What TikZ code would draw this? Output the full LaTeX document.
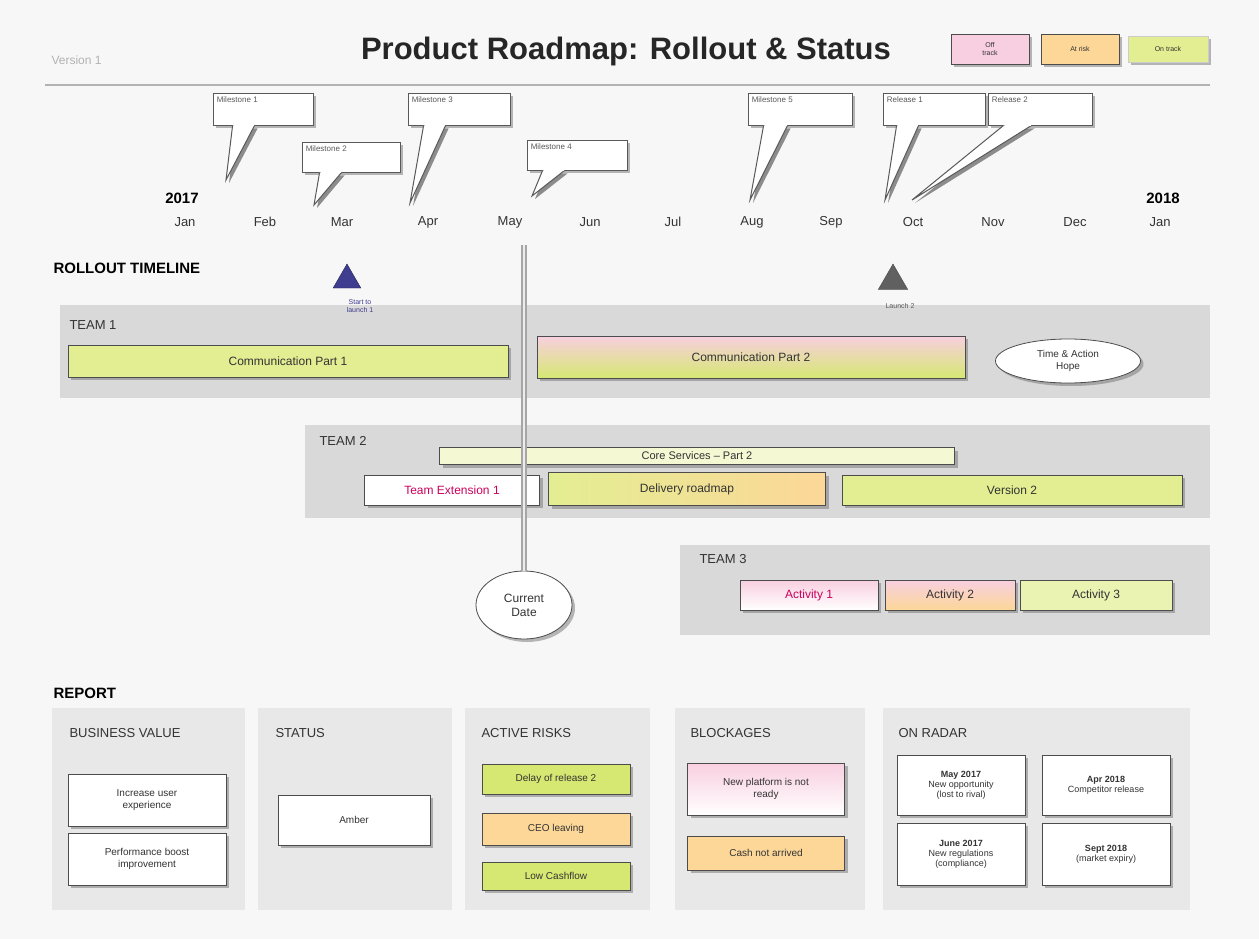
\documentclass[tikz,border=0pt]{standalone}
\usepackage{fontspec}
\setmainfont{Liberation Sans}
\usetikzlibrary{shadows,shapes.geometric,calc}
\definecolor{bgc}{HTML}{F7F7F7}
\definecolor{bandc}{HTML}{D9D9D9}
\definecolor{panelc}{HTML}{E8E8E8}
\definecolor{limec}{HTML}{E3EE92}
\definecolor{limed}{HTML}{D6E872}
\definecolor{orangec}{HTML}{FCD798}
\definecolor{pinkc}{HTML}{F8CFE0}
\definecolor{navyc}{HTML}{3F3D8F}
\definecolor{txtc}{HTML}{333333}
\newcommand{\fsz}[2]{\fontsize{#1}{#2}\selectfont}
\tikzset{
  shad/.style={drop shadow={shadow xshift=3pt,shadow yshift=-3pt,fill=black!55}},
  callout/.style={draw=gray!70!black,fill=white,line width=0.8pt,shad},
  calltext/.style={anchor=north west,inner sep=4pt,font=\fsz{8}{9},text=gray!70!black},
  ptr/.style={draw=gray!70!black,line width=1pt,fill=white},
  month/.style={font=\fsz{13}{15},text=txtc},
  year/.style={font=\bfseries\fsz{15}{17},text=black},
  band/.style={fill=bandc,draw=none,inner sep=0pt},
  teamlbl/.style={anchor=west,font=\fsz{13}{15},text=txtc},
  bar/.style={draw=gray!60!black,line width=0.8pt,shad,inner sep=1pt,font=\fsz{12}{14},text=txtc,align=center},
  panel/.style={fill=panelc,draw=none,inner sep=0pt},
  phead/.style={anchor=west,font=\fsz{13}{15},text=txtc},
  card/.style={draw=gray!60!black,line width=0.8pt,fill=white,shad,font=\fsz{10}{12},text=txtc,align=center,inner sep=1pt},
  section/.style={anchor=west,font=\bfseries\fsz{15}{17},text=black},
  legend/.style={draw=gray!60!black,line width=0.8pt,shad,font=\fsz{7}{8},text=txtc,align=center,inner sep=1pt},
  dateline/.style={draw=gray!70,line width=1.8pt,double=white!85!gray,double distance=1.6pt},
}
\begin{document}
\begin{tikzpicture}[x=1pt,y=-1pt]
\fill[bgc] (0,0) rectangle (1259,939);
\useasboundingbox (0,0) rectangle (1259,939);

% header
\node[anchor=west,font=\fsz{12}{14},text=gray!60] (ver) at (48,60) {Version 1};
\node[font=\bfseries\fsz{31}{34},text=black!85] (title) at (626,51) {Product Roadmap: Rollout \& Status};
\node[legend,fill=pinkc,minimum width=78,minimum height=30] (lg1) at (990,49) {Off\\track};
\node[legend,fill=orangec,minimum width=78,minimum height=30] (lg2) at (1080,49) {At risk};
\node[legend,fill=limec,draw=gray!40,minimum width=80,minimum height=26] (lg3) at (1168,49) {On track};
\coordinate (hl1) at (45,85);
\coordinate (hl2) at (1210,85);
\draw[gray!60,line width=1.5pt] (hl1) -- (hl2);

% milestone callouts
\node[callout,minimum width=100,minimum height=32,label={[calltext]north west:Milestone 1}] (m1) at (263,109) {};
\node[callout,minimum width=98,minimum height=30,label={[calltext]north west:Milestone 2}] (m2) at (351,157) {};
\node[callout,minimum width=102,minimum height=32,label={[calltext]north west:Milestone 3}] (m3) at (459,109) {};
\node[callout,minimum width=100,minimum height=30,label={[calltext]north west:Milestone 4}] (m4) at (577,155) {};
\node[callout,minimum width=104,minimum height=32,label={[calltext]north west:Milestone 5}] (m5) at (800,109) {};
\node[callout,minimum width=102,minimum height=32,label={[calltext]north west:Release 1}] (m6) at (934,109) {};
\node[callout,minimum width=104,minimum height=32,label={[calltext]north west:Release 2}] (m7) at (1040,109) {};
\coordinate (t1) at (226,180);
\coordinate (t2) at (314,205);
\coordinate (t3) at (410,203);
\coordinate (t4) at (532,196);
\coordinate (t5) at (750,200);
\coordinate (t6) at (885,200);
\coordinate (t7) at (912,200);
\foreach \m/\t/\a/\b in {m1/t1/20/42, m2/t2/18/40, m3/t3/16/38, m4/t4/16/38, m5/t5/16/40, m6/t6/14/36, m7/t7/16/44}{
  \fill[black!45] ($(\m.south west)+(\a+3,3)$) -- ($(\t)+(3,3)$) -- ($(\m.south west)+(\b+3,3)$) -- cycle;
  \fill[white] ($(\m.south west)+(\a,0)$) -- (\t) -- ($(\m.south west)+(\b,0)$) -- cycle;
  \draw[ptr,fill=none] ($(\m.south west)+(\a,0)$) -- (\t) -- ($(\m.south west)+(\b,0)$);
  \draw[white,line width=1.2pt] ($(\m.south west)+(\a+1,0)$) -- ($(\m.south west)+(\b-1,0)$);
}

% months
\node[year] (y17) at (182,198) {2017};
\node[year] (y18) at (1163,198) {2018};
\foreach \n/\x/\l in {mo1/185/Jan, mo2/265/Feb, mo3/342/Mar, mo4/428/Apr, mo5/510/May, mo6/590/Jun, mo7/673/Jul, mo8/752/Aug, mo9/831/Sep, mo10/913/Oct, mo11/993/Nov, mo12/1075/Dec, mo13/1160/Jan}{
  \node[month] (\n) at (\x,222) {\l};
}

% team bands
\node[band,minimum width=1150,minimum height=93,anchor=north west] (team1) at (60,305) {};
\node[teamlbl] (team1l) at (66,325) {TEAM 1};
\node[band,minimum width=905,minimum height=93,anchor=north west] (team2) at (305,425) {};
\node[teamlbl] (team2l) at (316,441) {TEAM 2};
\node[band,minimum width=530,minimum height=90,anchor=north west] (team3) at (680,545) {};
\node[teamlbl] (team3l) at (696,559) {TEAM 3};

% rollout timeline
\node[section] (rt) at (50,268) {ROLLOUT TIMELINE};
\node[regular polygon,regular polygon sides=3,fill=navyc,draw=navyc!60!black,minimum size=32,inner sep=0pt] (tri1) at (347,280) {};
\node[font=\fsz{7}{8},text=navyc,align=center] (tri1l) at (360,306) {Start to\\launch 1};
\node[regular polygon,regular polygon sides=3,fill=gray!75!black,draw=black!70,minimum size=34,inner sep=0pt] (tri2) at (893,281) {};
\node[font=\fsz{7}{8},text=gray!70!black] (tri2l) at (900,306) {Launch 2};

% team 1 bars
\node[bar,fill=limec,minimum width=440,minimum height=32] (b1) at (288,361) {Communication Part 1};
\node[bar,top color=pinkc,middle color=orangec,bottom color=limed,minimum width=428,minimum height=42] (b2) at (751,357) {Communication Part 2};
\node[ellipse,draw=gray!60!black,line width=0.8pt,fill=white,shad,minimum width=145,minimum height=44,font=\fsz{10}{12},text=txtc,align=center] (e1) at (1068,361) {Time \& Action\\Hope};

% team 2 bars
\node[bar,fill=white!60!limec,minimum width=515,minimum height=17,font=\fsz{11}{12}] (b3) at (697,456) {Core Services -- Part 2};
\node[bar,fill=white,text=red!55!magenta!80!black,minimum width=175,minimum height=30] (b4) at (452,490) {Team Extension 1};
\node[bar,left color=limec,right color=orangec,minimum width=277,minimum height=33] (b5) at (687,489) {Delivery roadmap};
\node[bar,fill=limec,minimum width=340,minimum height=30] (b6) at (1012,490) {Version 2};

% team 3 bars
\node[bar,top color=pinkc,bottom color=white,text=red!55!magenta!80!black,minimum width=138,minimum height=30] (a1) at (809,595) {Activity 1};
\node[bar,top color=pinkc,middle color=orangec,bottom color=orangec,minimum width=130,minimum height=30] (a2) at (950,595) {Activity 2};
\node[bar,fill=limec!70!white,minimum width=152,minimum height=30] (a3) at (1096,595) {Activity 3};

% current date
\node[ellipse,draw=gray!60!black,line width=0.8pt,fill=white,shad,minimum width=96,minimum height=68,font=\fsz{12}{14},text=txtc,align=center] (cd) at (524,605) {Current\\Date};
\coordinate (cdtop) at (524,245);
\draw[dateline] (cdtop) -- (cd.north);

% report
\node[section] (rep) at (50,693) {REPORT};
\node[panel,minimum width=193,minimum height=202,anchor=north west] (p1) at (52,708) {};
\node[panel,minimum width=194,minimum height=202,anchor=north west] (p2) at (258,708) {};
\node[panel,minimum width=185,minimum height=202,anchor=north west] (p3) at (465,708) {};
\node[panel,minimum width=190,minimum height=202,anchor=north west] (p4) at (675,708) {};
\node[panel,minimum width=307,minimum height=202,anchor=north west] (p5) at (883,708) {};
\node[phead] (h1) at (66,733) {BUSINESS VALUE};
\node[phead] (h2) at (272,733) {STATUS};
\node[phead] (h3) at (478,733) {ACTIVE RISKS};
\node[phead] (h4) at (687,733) {BLOCKAGES};
\node[phead] (h5) at (895,733) {ON RADAR};

\node[card,minimum width=158,minimum height=52] (bv1) at (147,800) {Increase user\\experience};
\node[card,minimum width=158,minimum height=52] (bv2) at (147,859) {Performance boost\\improvement};
\node[card,minimum width=152,minimum height=50] (st1) at (354,820) {Amber};

\node[card,fill=limed,minimum width=148,minimum height=30] (r1) at (556,779) {Delay of release 2};
\node[card,fill=orangec,minimum width=148,minimum height=32] (r2) at (556,829) {CEO leaving};
\node[card,fill=limed,minimum width=148,minimum height=28] (r3) at (556,876) {Low Cashflow};

\node[card,top color=pinkc,bottom color=white,minimum width=157,minimum height=52] (k1) at (766,789) {New platform is not\\ready};
\node[card,fill=orangec,minimum width=157,minimum height=34] (k2) at (766,853) {Cash not arrived};

\node[card,minimum width=128,minimum height=60,font=\fsz{9}{10}] (o1) at (961,785) {\textbf{May 2017}\\New opportunity\\(lost to rival)};
\node[card,minimum width=128,minimum height=60,font=\fsz{9}{10}] (o2) at (1106,785) {\textbf{Apr 2018}\\Competitor release};
\node[card,minimum width=128,minimum height=62,font=\fsz{9}{10}] (o3) at (961,854) {\textbf{June 2017}\\New regulations\\(compliance)};
\node[card,minimum width=128,minimum height=62,font=\fsz{9}{10}] (o4) at (1106,854) {\textbf{Sept 2018}\\(market expiry)};
\end{tikzpicture}
\end{document}
